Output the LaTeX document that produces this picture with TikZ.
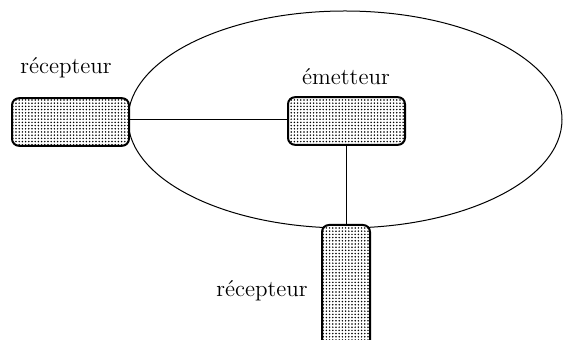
\documentclass[tikz,border=0pt]{standalone}
\usetikzlibrary{positioning,patterns.meta}
\begin{document}
\begin{tikzpicture}[x=0.5pt,y=-0.5pt,font=\fontsize{11.5}{14}\selectfont,
    unit/.style={draw,line width=1pt,rounded corners=3.5pt,
                 preaction={fill=white},
                 pattern={Dots[distance=1.6pt,radius=0.42pt]},
                 minimum width=58.5pt,minimum height=23.8pt,inner sep=0pt},
    link/.style={line width=0.5pt}]
  \useasboundingbox (0,0) rectangle (563,340);
  % zone
  \draw[link] (345,119.5) ellipse [x radius=217, y radius=108.5];
  % boxes
  \node[unit] (rx1) at (70.5,122) {};
  \node[unit] (tx) at (346.5,121) {};
  \node[unit,minimum width=24pt,minimum height=70pt,anchor=north] (rx2) at (346,224) {};
  % labels
  \node[anchor=base] (lrx1) at (66,74) {récepteur};
  \node[anchor=base] (ltx) at (346,85) {émetteur};
  \node[anchor=base] (lrx2) at (262,297) {récepteur};
  % links
  \draw[link] (rx1.east |- 0,120) -- (tx.west |- 0,120);
  \draw[link] (tx.south) -- (tx.south |- rx2.north);
\end{tikzpicture}
\end{document}
